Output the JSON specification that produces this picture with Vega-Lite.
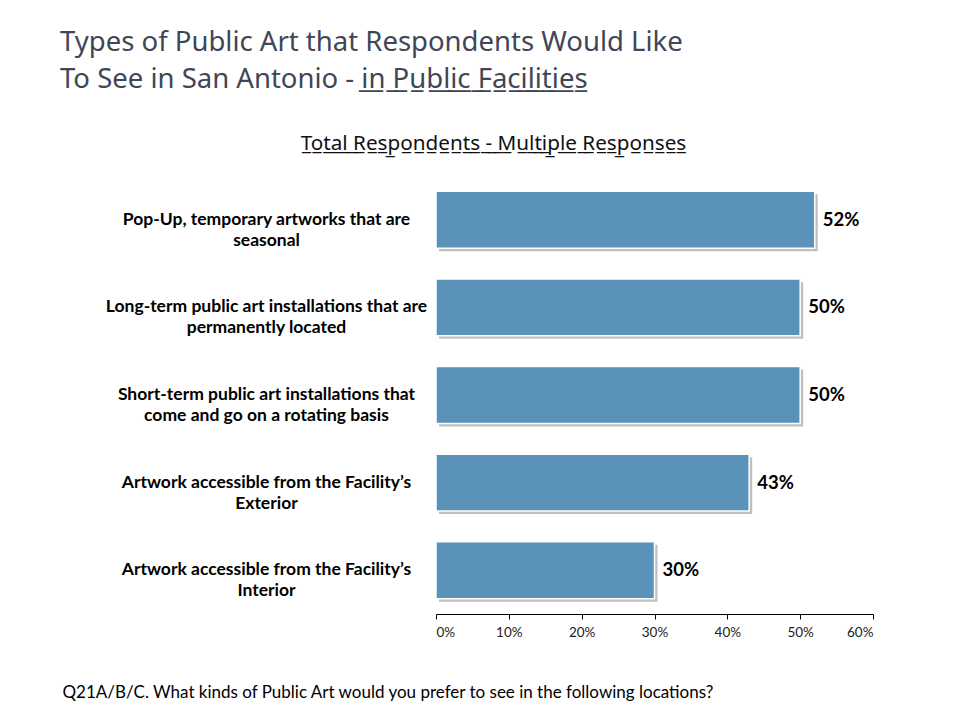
{
  "$schema": "https://vega.github.io/schema/vega-lite/v6.json",
  "width": 437,
  "height": 438,
  "autosize": {"type": "none"},
  "padding": {"left": 436, "top": 176, "right": 102, "bottom": 111},
  "background": "white",
  "title": {
    "text": ["Types of Public Art that Respondents Would Like", "To See in San Antonio - i\u0332n\u0332 \u0332P\u0332u\u0332b\u0332l\u0332i\u0332c\u0332 \u0332F\u0332a\u0332c\u0332i\u0332l\u0332i\u0332t\u0332i\u0332e\u0332s\u0332"],
    "anchor": "start",
    "frame": "group",
    "dx": -376,
    "dy": -35,
    "font": "Noto Sans",
    "fontSize": 27.5,
    "fontWeight": "normal",
    "color": "#3f4656",
    "lineHeight": 37
  },
  "data": {
    "values": [
      {"type": "Pop-Up, temporary artworks that are|seasonal", "pct": 0.52},
      {"type": "Long-term public art installations that are|permanently located", "pct": 0.50},
      {"type": "Short-term public art installations that|come and go on a rotating basis", "pct": 0.50},
      {"type": "Artwork accessible from the Facility\u2019s|Exterior", "pct": 0.43},
      {"type": "Artwork accessible from the Facility\u2019s|Interior", "pct": 0.30}
    ]
  },
  "encoding": {
    "y": {
      "field": "type",
      "type": "nominal",
      "sort": null,
      "scale": {"paddingInner": 0.35, "paddingOuter": 0.175},
      "axis": {
        "title": "T\u0332o\u0332t\u0332a\u0332l\u0332 \u0332R\u0332e\u0332s\u0332p\u0332o\u0332n\u0332d\u0332e\u0332n\u0332t\u0332s\u0332 \u0332-\u0332 \u0332M\u0332u\u0332l\u0332t\u0332i\u0332p\u0332l\u0332e\u0332 \u0332R\u0332e\u0332s\u0332p\u0332o\u0332n\u0332s\u0332e\u0332s\u0332",
        "titleAngle": 0,
        "titleX": 57,
        "titleY": -33,
        "titleAlign": "center",
        "titleBaseline": "middle",
        "titleFont": "Noto Sans",
        "titleFontSize": 20.7,
        "titleFontWeight": "normal",
        "titleColor": "#111111",
        "domain": false,
        "ticks": false,
        "labelPadding": 170,
        "labelAlign": "center",
        "labelFont": "Lato",
        "labelFontSize": 17.5,
        "labelFontWeight": "bold",
        "labelColor": "#000000",
        "labelLimit": 400,
        "labelLineHeight": 21,
        "labelExpr": "split(datum.label, '|')"
      }
    },
    "x": {
      "field": "pct",
      "type": "quantitative",
      "scale": {"domain": [0, 0.6], "nice": false},
      "axis": {
        "format": ".0%",
        "values": [0, 0.1, 0.2, 0.3, 0.4, 0.5, 0.6],
        "grid": false,
        "domainColor": "#000000",
        "tickColor": "#000000",
        "tickSize": 5,
        "labelFont": "Lato",
        "labelFontSize": 13.5,
        "labelColor": "#222222",
        "labelPadding": 6,
        "title": "Q21A/B/C. What kinds of Public Art would you prefer to see in the following locations?",
        "titleX": -374,
        "titleY": 78,
        "titleAlign": "left",
        "titleAnchor": "start",
        "titleBaseline": "middle",
        "titleFont": "Lato",
        "titleFontSize": 17,
        "titleFontWeight": "normal",
        "titleColor": "#000000"
      }
    }
  },
  "layer": [
    {"mark": {"type": "bar", "color": "#8a8a8a", "opacity": 0.55, "xOffset": 3, "yOffset": 3}},
    {"mark": {"type": "bar", "color": "#5b92b8", "stroke": "#ffffff", "strokeWidth": 1.5}},
    {
      "mark": {"type": "text", "align": "left", "baseline": "middle", "dx": 8, "font": "Lato", "fontSize": 18.5, "fontWeight": "bold", "color": "#000000"},
      "encoding": {"text": {"field": "pct", "type": "quantitative", "format": ".0%"}}
    }
  ],
  "config": {"view": {"stroke": null}}
}
